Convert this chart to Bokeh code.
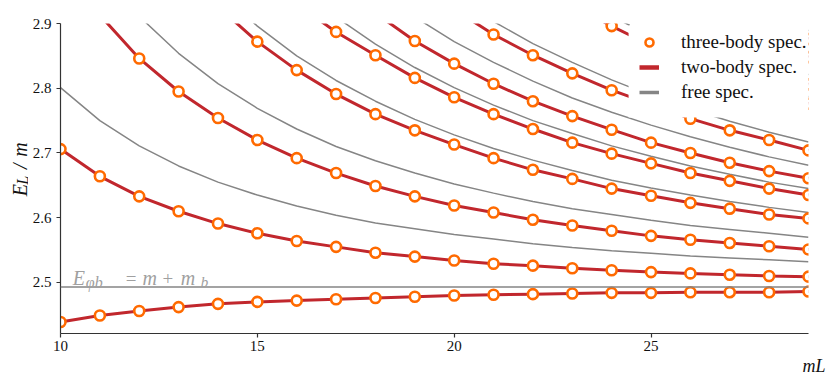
import math
from bokeh.plotting import figure
from bokeh.layouts import row
from bokeh.models import (Label, Legend, LegendItem, FixedTicker, Range1d, Span,
                          Title, BoxAnnotation)
from bokeh.embed import file_html
from bokeh.resources import INLINE

# ---------------- data ----------------
mL = [10, 11, 12, 13, 14, 15, 16, 17, 18, 19, 20, 21, 22, 23, 24, 25, 26, 27, 28, 29]

x_ticks = [10, 15, 20, 25]
x_tick_labels = ["10", "15", "20", "25"]
y_ticks = [2.5, 2.6, 2.7, 2.8, 2.9]
y_tick_labels = ["2.5", "2.6", "2.7", "2.8", "2.9"]

threshold = 2.4932  # E_phi_b = m + m_b

# interacting levels (two-body curve, three-body points), each ending at mL = 29
level_1 = [2.439, 2.449, 2.456, 2.462, 2.467, 2.470, 2.472, 2.474, 2.476, 2.478,
           2.480, 2.481, 2.482, 2.483, 2.484, 2.484, 2.485, 2.485, 2.485, 2.486]
level_2 = [2.706, 2.664, 2.633, 2.610, 2.591, 2.576, 2.564, 2.555, 2.546, 2.540,
           2.534, 2.529, 2.526, 2.522, 2.519, 2.516, 2.514, 2.512, 2.510, 2.509]
level_3 = [2.913, 2.846, 2.795, 2.754, 2.720, 2.692, 2.669, 2.649, 2.633, 2.619,
           2.608, 2.597, 2.588, 2.580, 2.572, 2.566, 2.561, 2.556, 2.551]
level_4 = [2.926, 2.872, 2.828, 2.791, 2.760, 2.735, 2.713, 2.692, 2.674, 2.660,
           2.645, 2.634, 2.623, 2.614, 2.605, 2.599]
level_5 = [2.930, 2.887, 2.851, 2.816, 2.786, 2.760, 2.737, 2.716, 2.699, 2.684,
           2.669, 2.657, 2.645, 2.635]
level_6 = [2.916, 2.873, 2.838, 2.807, 2.780, 2.757, 2.736, 2.716, 2.700, 2.685,
           2.672, 2.661]
level_7 = [2.922, 2.883, 2.851, 2.823, 2.797, 2.775, 2.753, 2.735, 2.720, 2.704]
level_8 = [2.929, 2.896, 2.866, 2.840, 2.817, 2.796, 2.776]
level_9 = [2.930, 2.901, 2.876, 2.851, 2.828, 2.806]
level_10 = [2.925, 2.898, 2.872, 2.848]
level_11 = [2.930, 2.902, 2.876]

# free levels, each ending at mL = 29
free_1 = [2.801, 2.750, 2.711, 2.680, 2.655, 2.635, 2.618, 2.604, 2.592, 2.583,
          2.574, 2.567, 2.560, 2.554, 2.549, 2.545, 2.541, 2.538, 2.535, 2.532]
free_2 = [2.983, 2.911, 2.854, 2.807, 2.769, 2.737, 2.710, 2.688, 2.669, 2.652,
          2.638, 2.625, 2.614, 2.605, 2.596, 2.588, 2.582, 2.576, 2.570]
free_3 = [2.950, 2.896, 2.850, 2.812, 2.780, 2.752, 2.728, 2.707, 2.689, 2.673,
          2.658, 2.646, 2.635, 2.625, 2.616, 2.608]
free_4 = [2.959, 2.910, 2.868, 2.832, 2.801, 2.774, 2.750, 2.730, 2.711, 2.695,
          2.680, 2.667, 2.655, 2.645]
free_5 = [2.954, 2.910, 2.872, 2.840, 2.811, 2.785, 2.763, 2.743, 2.725, 2.709,
          2.694, 2.681]
free_6 = [2.942, 2.903, 2.869, 2.840, 2.813, 2.789, 2.768, 2.749, 2.732, 2.717]
free_8 = [2.945, 2.911, 2.881, 2.854, 2.829, 2.807, 2.787]
free_9 = [2.959, 2.925, 2.895, 2.868, 2.844, 2.821]
free_10 = [2.969, 2.936, 2.906, 2.880, 2.855]
free_11 = [2.944, 2.915, 2.889]

levels = [level_1, level_2, level_3, level_4, level_5, level_6,
          level_7, level_8, level_9, level_10, level_11]
free_levels = [free_1, free_2, free_3, free_4, free_5, free_6,
               free_8, free_9, free_10, free_11]

legend_labels = ["three-body spec.", "two-body spec.", "free spec."]

# ---------------- style ----------------
RED = "#c1272d"
ORANGE = "#ff6a00"
GRAY = "#858585"
TEXT_GRAY = "#a0a0a0"
INK = "#111111"
SERIF = "Liberation Serif"

LEFT_W = 28
TOTAL_W = 831
H = 377
NAN = float("nan")

# ---------------- main plot ----------------
p = figure(width=TOTAL_W - LEFT_W, height=H,
           x_range=Range1d(10, 29), y_range=Range1d(2.4212, 2.9),
           output_backend="svg", toolbar_location=None, title=None,
           min_border_left=60 - LEFT_W, min_border_right=23,
           min_border_top=23, min_border_bottom=H - 333)
p.xgrid.visible = False
p.ygrid.visible = False
p.outline_line_color = None
p.background_fill_color = "white"
p.border_fill_color = "white"

for ax, ticks, labels in ((p.xaxis, x_ticks, x_tick_labels), (p.yaxis, y_ticks, y_tick_labels)):
    ax.ticker = FixedTicker(ticks=ticks)
    ax.major_label_overrides = {t: l for t, l in zip(ticks, labels)}
    ax.major_tick_out = 4
    ax.major_tick_in = 0
    ax.minor_tick_out = 0
    ax.minor_tick_in = 0
    ax.axis_line_color = "#333333"
    ax.axis_line_width = 1.2
    ax.major_tick_line_color = "#333333"
    ax.major_tick_line_width = 1.2
    ax.major_label_text_font = SERIF
    ax.major_label_text_font_size = "15px"
    ax.major_label_text_color = INK
p.xaxis.major_label_standoff = 3
p.yaxis.major_label_standoff = 5

# x axis title  mL  (right aligned, below the tick labels, reaching past the frame)
p.add_layout(Title(text="mL", align="right", offset=-17, standoff=0,
                   vertical_align="bottom",
                   text_font=SERIF, text_font_size="18px", text_font_style="italic",
                   text_color=INK), "below")

# threshold line
p.add_layout(Span(location=threshold, dimension="width", line_color=GRAY, line_width=1.5))

# free spectrum
for fl in free_levels:
    p.line(mL[-len(fl):], fl, line_color=GRAY, line_width=1.5)

# two-body spectrum
for lv in levels:
    p.line(mL[-len(lv):], lv, line_color=RED, line_width=3)

# three-body spectrum
pts = []
for lv in levels:
    pts.append(p.scatter(mL[-len(lv):], lv, marker="circle", size=10, line_color=ORANGE,
                         line_width=2.6, fill_color="white"))

# white box behind the legend (the key hides the curves beneath it)
p.add_layout(BoxAnnotation(left=24.43, bottom=2.7548, top=2.8974,
                           fill_color="white", fill_alpha=1.0, line_alpha=0))

# legend keys (lines are drawn thicker in the key; these draw nothing on the plot)
r_two = p.line([NAN, NAN], [NAN, NAN], line_color=RED, line_width=4.5)
r_free = p.line([NAN, NAN], [NAN, NAN], line_color=GRAY, line_width=3.5)
legend = Legend(items=[LegendItem(label=legend_labels[0], renderers=[pts[0]]),
                       LegendItem(label=legend_labels[1], renderers=[r_two]),
                       LegendItem(label=legend_labels[2], renderers=[r_free])],
                location=(570, 221))
legend.label_text_font = SERIF
legend.label_text_font_size = "19px"
legend.label_text_color = INK
legend.glyph_width = 20
legend.glyph_height = 20
legend.label_standoff = 22
legend.padding = 9
legend.spacing = 3
legend.margin = 0
legend.background_fill_color = "white"
legend.background_fill_alpha = 1.0
legend.border_line_alpha = 0
p.add_layout(legend)


def lab(fig, x, y, text, size, style="italic", color=TEXT_GRAY, angle=0.0, align="left"):
    fig.add_layout(Label(x=x, y=y, text=text, text_font=SERIF, text_font_size=size,
                         text_font_style=style, text_color=color, angle=angle,
                         text_align=align, text_baseline="alphabetic"))


# threshold label  E_{phi b} = m + m_b
lab(p, 10.312, 2.5066, "E", "20px")
lab(p, 10.642, 2.5000, "φb", "16px")
lab(p, 11.657, 2.5066, "=", "19px", style="normal")
lab(p, 12.081, 2.5066, "m", "20px")
lab(p, 12.589, 2.5066, "+", "19px", style="normal")
lab(p, 13.053, 2.5066, "m", "20px")
lab(p, 13.561, 2.5000, "b", "15px")

# ---------------- left strip: y axis title  E_L/m ----------------
left = figure(width=LEFT_W, height=H, x_range=Range1d(0, LEFT_W), y_range=Range1d(H, 0),
              output_backend="svg", toolbar_location=None, title=None,
              x_axis_type=None, y_axis_type=None,
              min_border_left=0, min_border_right=0, min_border_top=0, min_border_bottom=0)
left.xgrid.visible = False
left.ygrid.visible = False
left.outline_line_color = None
left.border_fill_color = "white"
rot = math.pi / 2
lab(left, 19.5, 210.0, "E", "20px", color=INK, angle=rot)
lab(left, 22.0, 196.0, "L", "16px", color=INK, angle=rot)
lab(left, 19.5, 177.0, "/", "20px", color=INK, angle=rot)
lab(left, 19.5, 162.0, "m", "20px", color=INK, angle=rot)

layout = row(left, p, spacing=0)
open("out.html", "w").write(file_html(layout, INLINE))
